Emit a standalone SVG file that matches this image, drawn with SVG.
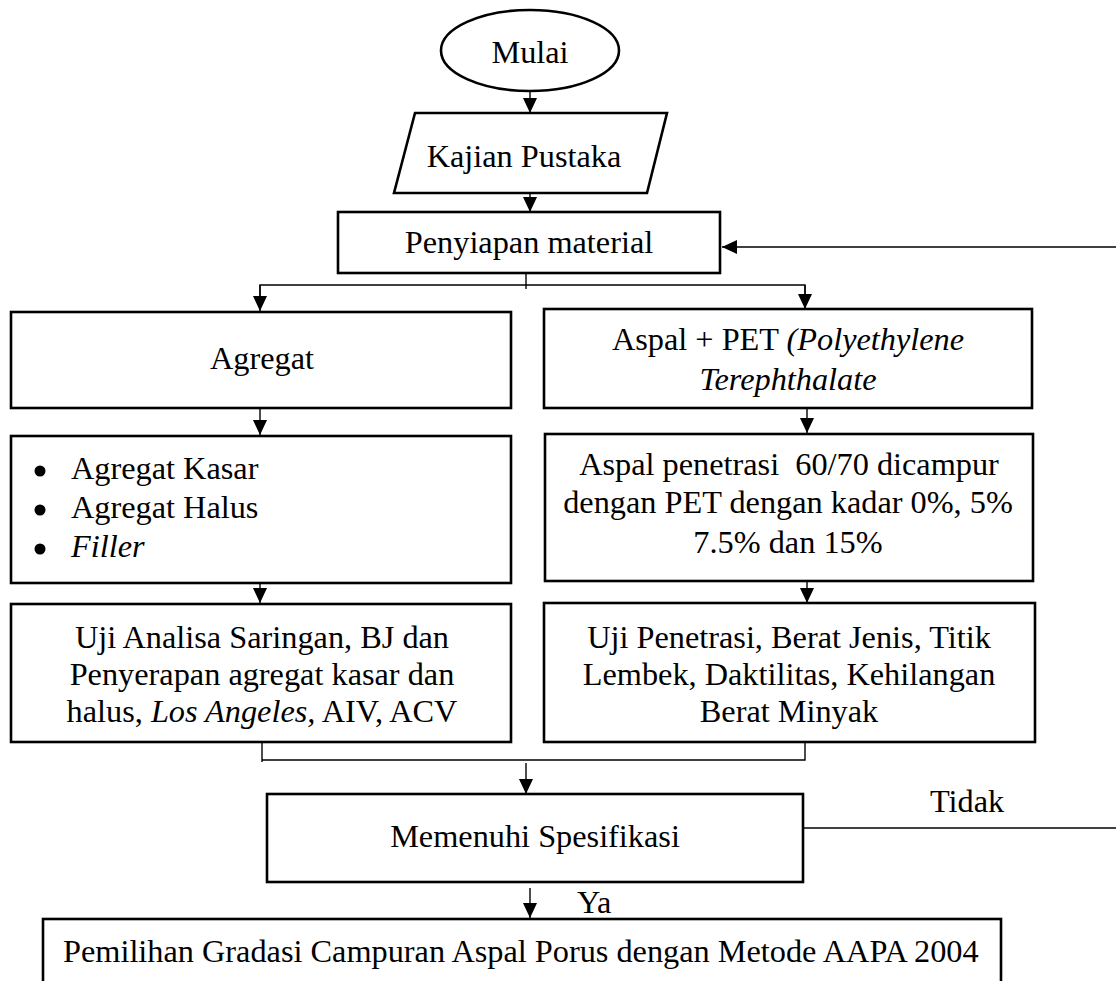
<svg xmlns="http://www.w3.org/2000/svg" width="1116" height="981" viewBox="0 0 1116 981">
<style>
text{font-family:"Liberation Serif","Times New Roman",serif;font-size:32.3px;fill:#000}
.c{text-anchor:middle}
.i{font-style:italic}
.box{fill:#fff;stroke:#000;stroke-width:2.6}
.ln{fill:none;stroke:#000;stroke-width:1.4}
</style>
<defs>
<marker id="ah" markerUnits="userSpaceOnUse" markerWidth="15" markerHeight="14" refX="15" refY="7" orient="auto">
<path d="M0,0 L15,7 L0,14 z" fill="#000"/>
</marker>
</defs>
<rect width="1116" height="981" fill="#fff"/>
<g id="connectors">
<line class="ln" x1="530" y1="91" x2="530" y2="113" marker-end="url(#ah)"/>
<line class="ln" x1="530" y1="193" x2="530" y2="212" marker-end="url(#ah)"/>
<line class="ln" x1="1116" y1="247" x2="722" y2="247" marker-end="url(#ah)"/>
<line class="ln" x1="526" y1="273" x2="526" y2="289"/>
<polyline class="ln" points="260,309 260,285 805,285 805,309" />
<line class="ln" x1="260" y1="285" x2="260" y2="311" marker-end="url(#ah)"/>
<line class="ln" x1="805" y1="285" x2="805" y2="309" marker-end="url(#ah)"/>
<line class="ln" x1="260" y1="408" x2="260" y2="435" marker-end="url(#ah)"/>
<line class="ln" x1="807" y1="408" x2="807" y2="433" marker-end="url(#ah)"/>
<line class="ln" x1="260" y1="583" x2="260" y2="603" marker-end="url(#ah)"/>
<line class="ln" x1="807" y1="581" x2="807" y2="603" marker-end="url(#ah)"/>
<polyline class="ln" points="262,742 262,762" />
<polyline class="ln" points="262,760 805,760 805,742" />
<line class="ln" x1="526" y1="763" x2="526" y2="794" marker-end="url(#ah)"/>
<line class="ln" x1="803" y1="828" x2="1116" y2="828"/>
<line class="ln" x1="530" y1="888" x2="530" y2="918" marker-end="url(#ah)"/>
<text x="930" y="812">Tidak</text>
<text x="577" y="913">Ya</text>
</g>
<g id="mulai">
<ellipse class="box" cx="530" cy="50.5" rx="89" ry="40.5"/>
<text class="c" x="530" y="63">Mulai</text>
</g>
<g id="kajian">
<polygon class="box" points="415,113 667,113 647,193 394,193"/>
<text class="c" x="524" y="167">Kajian Pustaka</text>
</g>
<g id="penyiapan">
<rect class="box" x="338" y="212" width="382" height="61"/>
<text class="c" x="529" y="253">Penyiapan material</text>
</g>
<g id="agregat">
<rect class="box" x="11" y="312" width="500" height="96"/>
<text class="c" x="262" y="369">Agregat</text>
</g>
<g id="agregat-list">
<rect class="box" x="11" y="436" width="500" height="147"/>
<circle cx="40" cy="471" r="5.5" fill="#000"/>
<circle cx="40" cy="510" r="5.5" fill="#000"/>
<circle cx="40" cy="549" r="5.5" fill="#000"/>
<text x="71" y="479">Agregat Kasar</text>
<text x="71" y="518">Agregat Halus</text>
<text class="i" x="71" y="557">Filler</text>
</g>
<g id="uji-agregat">
<rect class="box" x="11" y="604" width="500" height="138"/>
<text class="c" x="262" y="648">Uji Analisa Saringan, BJ dan</text>
<text class="c" x="262" y="685">Penyerapan agregat kasar dan</text>
<text class="c" x="262" y="722">halus, <tspan class="i">Los Angeles,</tspan> AIV, ACV</text>
</g>
<g id="aspal-pet">
<rect class="box" x="544" y="309" width="488" height="99"/>
<text class="c" x="788" y="350">Aspal + PET <tspan class="i">(Polyethylene</tspan></text>
<text class="c i" x="788" y="390">Terephthalate</text>
</g>
<g id="aspal-kadar">
<rect class="box" x="545" y="434" width="488" height="147"/>
<text class="c" x="789" y="475" xml:space="preserve">Aspal penetrasi  60/70 dicampur</text>
<text class="c" x="788" y="513">dengan PET dengan kadar 0%, 5%</text>
<text class="c" x="788" y="553">7.5% dan 15%</text>
</g>
<g id="uji-aspal">
<rect class="box" x="544" y="603" width="491" height="139"/>
<text class="c" x="789" y="648">Uji Penetrasi, Berat Jenis, Titik</text>
<text class="c" x="789" y="685">Lembek, Daktilitas, Kehilangan</text>
<text class="c" x="789" y="722">Berat Minyak</text>
</g>
<g id="memenuhi">
<rect class="box" x="267" y="794" width="536" height="88"/>
<text class="c" x="535" y="847">Memenuhi Spesifikasi</text>
</g>
<g id="pemilihan">
<rect class="box" x="43" y="919" width="958" height="80"/>
<text x="63" y="962">Pemilihan Gradasi Campuran Aspal Porus dengan Metode AAPA 2004</text>
</g>
</svg>
